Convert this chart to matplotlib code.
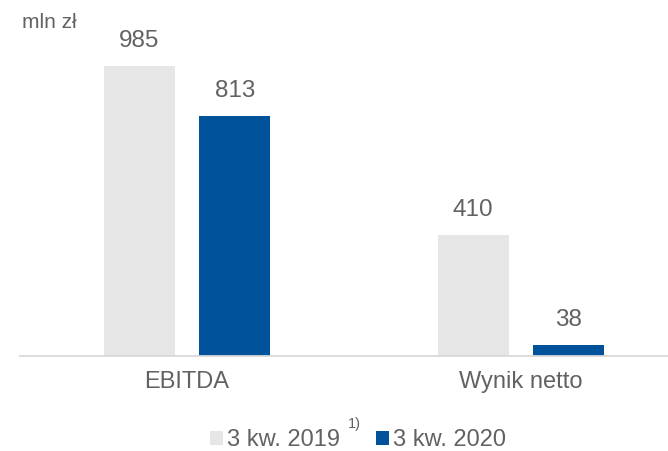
import matplotlib.pyplot as plt
import numpy as np

plt.rcParams['font.family'] = ['Liberation Sans', 'DejaVu Sans']

categories = ['EBITDA', 'Wynik netto']
q3_2019 = [985, 410]
q3_2020 = [813, 38]
series_labels = ['3 kw. 2019', '3 kw. 2020']
unit_label = 'mln zł'

c_2019 = '#e6e6e6'
c_2020 = '#00529b'
txt = '#626262'

fig = plt.figure(figsize=(6.68, 4.51), dpi=100)
ax = fig.add_axes([20 / 668, 95 / 451, 648 / 668, 336 / 451])

x = np.arange(len(categories))
w = 0.213
off = 0.143
b1 = ax.bar(x - off, q3_2019, w, color=c_2019, label=series_labels[0])
b2 = ax.bar(x + off, q3_2020, w, color=c_2020, label=series_labels[1])

for bars in (b1, b2):
    for r in bars:
        ax.annotate(f'{r.get_height():.0f}', (r.get_x() + r.get_width() / 2, r.get_height()),
                    xytext=(0, 18), textcoords='offset points', ha='center', va='center',
                    fontsize=17.5, color=txt)

ax.set_xlim(-0.5, 1.44)
ax.set_ylim(0, 1140)
ax.set_yticks([])
ax.set_xticks(x)
ax.set_xticklabels(categories, fontsize=17, color=txt)
ax.tick_params(axis='x', length=0, pad=10.5)
for s in ('top', 'left', 'right'):
    ax.spines[s].set_visible(False)
ax.spines['bottom'].set_color('#d9d9d9')
ax.spines['bottom'].set_linewidth(1.3)

fig.text(22 / 668, 1 - 22 / 451, unit_label, fontsize=15, color=txt, va='center', ha='left')

leg = fig.legend(handles=[b1, b2], labels=series_labels, loc='center',
                 bbox_to_anchor=(358 / 668, 1 - 440 / 451), ncol=2, frameon=False,
                 fontsize=17, handlelength=0.55, handleheight=0.55, handletextpad=0.2,
                 columnspacing=1.5, borderpad=0, borderaxespad=0)
for t in leg.get_texts():
    t.set_color(txt)

fig.text(354 / 668, 1 - 424 / 451, '1)', fontsize=10.5, color=txt, ha='center', va='center')

fig.savefig('out.png', dpi=100)
